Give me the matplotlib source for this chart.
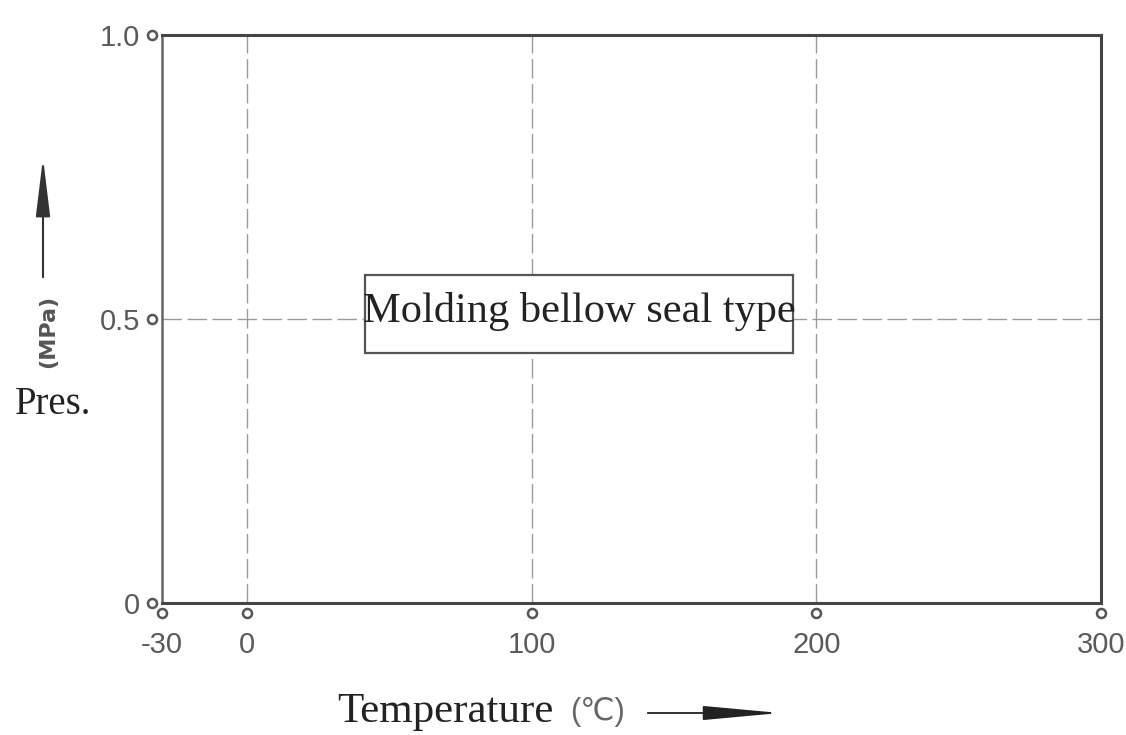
import matplotlib
matplotlib.use("Agg")
import matplotlib.pyplot as plt
import matplotlib.transforms as mtransforms
from matplotlib.patches import Rectangle, FancyArrowPatch

# Data / labels
x_ticks = [-30, 0, 100, 200, 300]
x_ticklabels = ["-30", "0", "100", "200", "300"]
y_ticks = [0, 0.5, 1.0]
y_ticklabels = ["0", "0.5", "1.0"]
x_grid = [0, 100, 200]
y_grid = [0.5]
box_label = "Molding bellow seal type"
box_x = [41.4, 191.8]
box_y = [0.44, 0.577]

W, H = 1126, 735
fig = plt.figure(figsize=(W / 100, H / 100), dpi=100)
ax = fig.add_axes([162 / W, 1 - 603 / H, (1101 - 162) / W, (603 - 35) / H])
ax.set_xlim(-30, 300)
ax.set_ylim(0, 1.0)

for s in ax.spines.values():
    s.set_color("#444444")
    s.set_linewidth(2.2)
ax.spines["left"].set_color("#666666")
ax.spines["left"].set_linewidth(1.8)

tick_font = dict(family=["Liberation Sans", "DejaVu Sans"], size=21, color="#5a5a5a")
ax.set_xticks(x_ticks)
ax.set_xticklabels(x_ticklabels, **tick_font)
ax.set_yticks(y_ticks)
ax.set_yticklabels(y_ticklabels, **tick_font)
ax.tick_params(axis="x", length=0, pad=20)
ax.tick_params(axis="y", length=0, pad=16)

# grid lines
for gx in x_grid:
    ax.axvline(gx, color="#9a9a9a", lw=1.0, ls=(0, (14, 4)), zorder=0)
for gy in y_grid:
    ax.axhline(gy, color="#9a9a9a", lw=1.0, ls=(0, (14, 4)), zorder=0)

# tick circles
tx = mtransforms.offset_copy(ax.get_xaxis_transform(), fig=fig, x=0, y=-10, units="dots")
ax.plot(x_ticks, [0] * len(x_ticks), ls="none", marker="o", ms=6.5, mfc="white",
        mec="#555555", mew=1.8, transform=tx, clip_on=False)
ty = mtransforms.offset_copy(ax.get_yaxis_transform(), fig=fig, x=-10, y=0, units="dots")
ax.plot([0] * len(y_ticks), y_ticks, ls="none", marker="o", ms=6.5, mfc="white",
        mec="#555555", mew=1.8, transform=ty, clip_on=False)

# text box
ax.add_patch(Rectangle((box_x[0], box_y[0]), box_x[1] - box_x[0], box_y[1] - box_y[0],
                       fill=True, facecolor="white", edgecolor="#555555", lw=1.6, zorder=3))
ax.text((box_x[0] + box_x[1]) / 2, (box_y[0] + box_y[1]) / 2 + 0.005, box_label,
        ha="center", va="center", family=["Liberation Serif", "DejaVu Serif"],
        fontsize=30.5, color="#222222", zorder=4)

# y label parts
fig.text(53 / W, 1 - 405 / H, "Pres.", ha="center", va="center",
         family=["Liberation Serif", "DejaVu Serif"], fontsize=28, color="#222222")
fig.text(48 / W, 1 - 331 / H, "(MPa)", ha="center", va="center", rotation=90,
         family=["DejaVu Sans"], fontsize=16,
         fontweight="bold", color="#555555")
fig.patches.append(FancyArrowPatch(
    (43 / W, 1 - 280 / H), (43 / W, 1 - 155 / H), transform=fig.transFigure,
    arrowstyle="-|>,head_length=1.8,head_width=0.22", mutation_scale=20,
    color="#333333", lw=1.5))

# x label parts
fig.text(337 / W, 1 - 712 / H, "Temperature", ha="left", va="center",
         family=["Liberation Serif", "DejaVu Serif"], fontsize=31, color="#222222")
fig.text(598 / W, 1 - 712 / H, "(℃)", ha="center", va="center",
         family=["Liberation Sans", "DejaVu Sans"], fontsize=22, color="#666666")
fig.patches.append(FancyArrowPatch(
    (645 / W, 1 - 713 / H), (783 / W, 1 - 713 / H), transform=fig.transFigure,
    arrowstyle="-|>,head_length=2.4,head_width=0.22", mutation_scale=20,
    color="#222222", lw=1.3))

fig.savefig("out.png", dpi=100, facecolor="white")
